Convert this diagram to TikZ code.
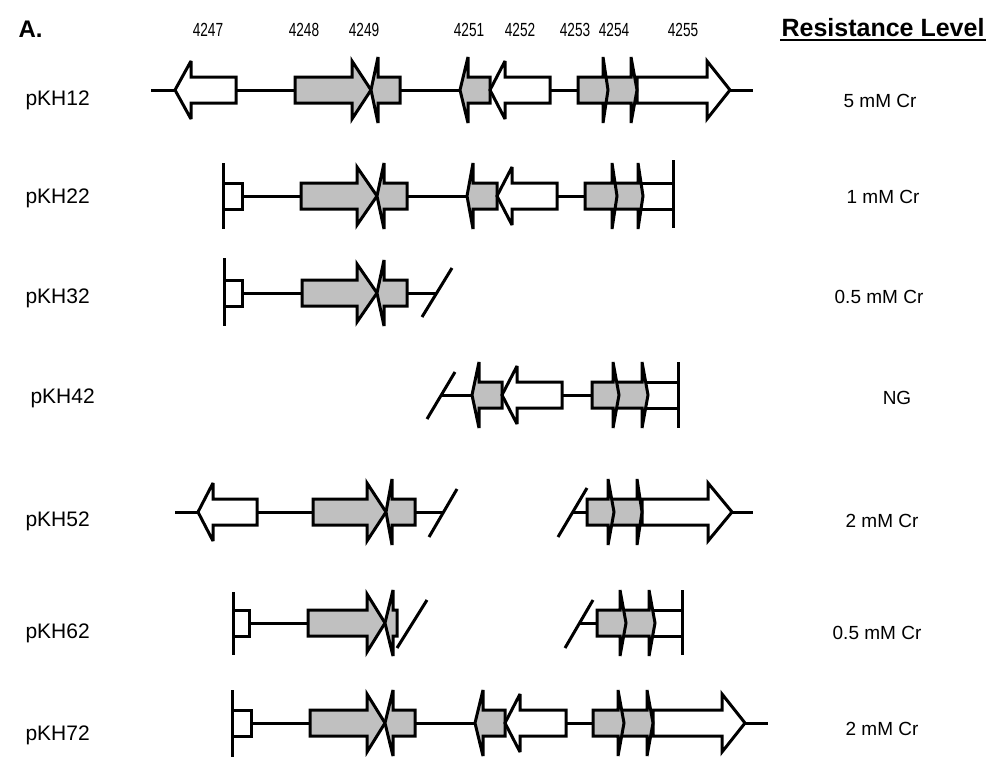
\documentclass[tikz,border=0pt]{standalone}
\usepackage{fontspec}
\setmainfont{Liberation Sans}
\newfontfamily\narrowfont[FakeStretch=0.72]{Liberation Sans}
\definecolor{gg}{RGB}{192,192,192}
\newcommand\GR[6]{\filldraw[gene,fill=#6] (#1,#4-13) -- (#2,#4-13) -- (#2,#4-#5) -- (#3,#4) -- (#2,#4+#5) -- (#2,#4+13) -- (#1,#4+13) -- cycle;}
\newcommand\GL[6]{\filldraw[gene,fill=#6] (#3,#4-13) -- (#2,#4-13) -- (#2,#4-#5) -- (#1,#4) -- (#2,#4+#5) -- (#2,#4+13) -- (#3,#4+13) -- cycle;}
\newcommand\TB[3]{\filldraw[gene,fill=white] (#2,#3-13) -- (#1,#3-13) -- (#1,#3+13) -- (#2,#3+13);}
\newcommand\SB[3]{\filldraw[gene,fill=white] (#1,#3-13) rectangle (#2,#3+13);}
\begin{document}
\begin{tikzpicture}[x=1pt,y=-1pt,line width=3pt,
  gene/.style={draw=black,line width=3pt,line join=miter,miter limit=4},
  backbone/.style={draw=black,line width=3pt},
  cut/.style={draw=black,line width=3pt},
  rowlab/.style={font=\fontsize{21}{24}\selectfont,anchor=west,inner sep=0pt},
  reslab/.style={font=\fontsize{19}{22}\selectfont,inner sep=0pt},
  genelab/.style={font=\narrowfont\fontsize{19}{22}\selectfont,inner sep=0pt}]
\useasboundingbox (0,0) rectangle (987,756);
\fill[white] (0,0) rectangle (987,756);
\clip (0,0) rectangle (987,756);
% header
\node[font=\bfseries\fontsize{24}{28}\selectfont,anchor=west,inner sep=0pt] (A) at (17,29) {A.};
\node[genelab] (g4247) at (208,30) {4247};
\node[genelab] (g4248) at (304,30) {4248};
\node[genelab] (g4249) at (364,30) {4249};
\node[genelab] (g4251) at (469,30) {4251};
\node[genelab] (g4252) at (520,30) {4252};
\node[genelab] (g4253) at (575,30) {4253};
\node[genelab] (g4254) at (614,30) {4254};
\node[genelab] (g4255) at (683,30) {4255};
\node[font=\bfseries\fontsize{25}{28}\selectfont,anchor=east,inner sep=0pt] (RL) at (986,28) {Resistance Level};
\draw[line width=2pt] ([yshift=-3pt]RL.base west) -- ([yshift=-3pt]RL.base east);
% row labels
\node[rowlab] (p12) at (24,100) {pKH12};
\node[rowlab] (p22) at (24,198) {pKH22};
\node[rowlab] (p32) at (24,298) {pKH32};
\node[rowlab] (p42) at (29,398) {pKH42};
\node[rowlab] (p52) at (24,521) {pKH52};
\node[rowlab] (p62) at (24,633) {pKH62};
\node[rowlab] (p72) at (24,735) {pKH72};
\node[reslab] (r12) at (880,101) {5 mM Cr};
\node[reslab] (r22) at (883,197) {1 mM Cr};
\node[reslab] (r32) at (879,297) {0.5 mM Cr};
\node[reslab] (r42) at (897,398) {NG};
\node[reslab] (r52) at (882,521) {2 mM Cr};
\node[reslab] (r62) at (877,633) {0.5 mM Cr};
\node[reslab] (r72) at (882,729) {2 mM Cr};
% ---- row 1 pKH12
\draw[backbone] (151,90) -- (753,90);
\GL{175}{191}{236}{90}{29}{white}
\GR{295}{352}{371}{90}{29}{gg}
\GL{371}{378}{400}{90}{33}{gg}
\GL{460}{468}{490}{90}{33}{gg}
\GL{490}{505}{550}{90}{29}{white}
\GR{637}{707}{730}{90}{29}{white}
\GR{603}{631}{637}{90}{33}{gg}
\GR{578}{603}{608}{90}{33}{gg}
% ---- row 2 pKH22
\draw[backbone] (223,196) -- (638,196);
\SB{223}{242}{196}
\draw[cut] (223,163) -- (223,229);
\GR{301}{357}{377}{196}{29}{gg}
\GL{377}{384}{407}{196}{33}{gg}
\GL{467}{473}{497}{196}{33}{gg}
\GL{497}{512}{557}{196}{29}{white}
\TB{638}{673}{196}
\GR{612}{638}{643}{196}{33}{gg}
\GR{585}{612}{617}{196}{33}{gg}
\draw[cut] (673,160) -- (673,228);
% ---- row 3 pKH32
\draw[backbone] (224,293) -- (437,293);
\SB{224}{242}{293}
\draw[cut] (224,258) -- (224,326);
\GR{302}{357}{377}{293}{29}{gg}
\GL{377}{384}{407}{293}{33}{gg}
\draw[cut] (422,317) -- (452,268);
% ---- row 4 pKH42
\draw[backbone] (441,395) -- (642,395);
\draw[cut] (427,419) -- (455,372);
\GL{472}{479}{502}{395}{33}{gg}
\GL{502}{517}{562}{395}{29}{white}
\TB{642}{678}{395}
\GR{613}{642}{648}{395}{33}{gg}
\GR{592}{613}{619}{395}{33}{gg}
\draw[cut] (678,362) -- (678,428);
% ---- row 5 pKH52
\draw[backbone] (175,512) -- (443,512);
\draw[cut] (429,537) -- (457,489);
\GL{198}{213}{257}{512}{29}{white}
\GR{313}{367}{386}{512}{29}{gg}
\GL{386}{392}{415}{512}{33}{gg}
\draw[backbone] (572,512) -- (753,512);
\draw[cut] (558,537) -- (587,488);
\GR{642}{708}{732}{512}{29}{white}
\GR{608}{637}{642}{512}{33}{gg}
\GR{587}{608}{614}{512}{33}{gg}
% ---- row 6 pKH62
\draw[backbone] (233,623) -- (397,623);
\SB{233}{249}{623}
\draw[cut] (233,592) -- (233,655);
\GR{308}{367}{385}{623}{29}{gg}
\GL{385}{393}{397}{623}{33}{gg}
\draw[cut] (397,648) -- (427,600);
\draw[backbone] (579,623) -- (597,623);
\draw[cut] (565,648) -- (593,600);
\TB{649}{682}{623}
\GR{620}{649}{655}{623}{33}{gg}
\GR{597}{620}{626}{623}{33}{gg}
\draw[cut] (682,590) -- (682,655);
% ---- row 7 pKH72
\draw[backbone] (232,723) -- (768,723);
\SB{232}{251}{723}
\draw[cut] (232,690) -- (232,760);
\GR{310}{367}{385}{723}{29}{gg}
\GL{385}{393}{415}{723}{33}{gg}
\GL{475}{483}{505}{723}{33}{gg}
\GL{505}{520}{566}{723}{29}{white}
\GR{653}{722}{745}{723}{29}{white}
\GR{618}{647}{653}{723}{33}{gg}
\GR{593}{618}{624}{723}{33}{gg}
\end{tikzpicture}
\end{document}
